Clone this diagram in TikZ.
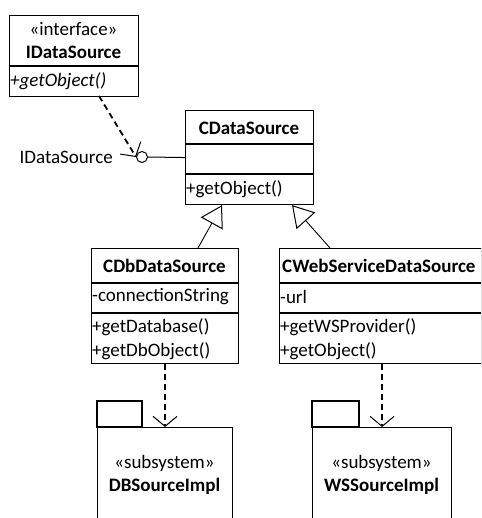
\documentclass[tikz,border=0pt]{standalone}
\usepackage{fontspec}
\setmainfont{Carlito}
\usetikzlibrary{arrows.meta}
\begin{document}
\begin{tikzpicture}[x=1pt, y=-1pt,
  box/.style={draw, line width=1.1pt, inner sep=0pt, anchor=north west},
  txt/.style={inner sep=1pt, font=\fontsize{19}{22}\selectfont},
  gen/.style={line width=0.9pt, -{Triangle[open, length=21pt, width=25pt, line width=1pt]}},
  dep/.style={line width=1.8pt, dash pattern=on 6pt off 4pt, -{Straight Barb[length=10pt, width=24pt, line width=1pt]}}]
  \clip (0,0) rectangle (481,518);
  % interface IDataSource
  \node[box, minimum width=129pt, minimum height=81pt] (idata) at (9,15) {};
  \draw[line width=1.1pt] (9,66) -- (138,66);
  \node[txt] (idst) at (73.5,29) {«interface»};
  \node[txt, font=\fontsize{19}{22}\selectfont\bfseries] (idname) at (73.5,52) {IDataSource};
  \node[txt, anchor=west] (idop) at (9,81) {\itshape +getObject()};
  % class CDataSource
  \node[box, minimum width=128pt, minimum height=94pt] (cds) at (185,110) {};
  \draw[line width=1.1pt] (185,144) -- (313,144);
  \draw[line width=1.1pt] (185,174) -- (313,174);
  \node[txt, font=\fontsize{19}{22}\selectfont\bfseries] (cdsname) at (249,128) {CDataSource};
  \node[txt, anchor=west] (cdsop) at (185,189) {+getObject()};
  % lollipop
  \node[draw, circle, line width=1pt, minimum size=11pt, inner sep=0pt] (ball) at (142,157) {};
  \draw[line width=1pt] (ball.east) -- (cds.west);
  \node[txt, anchor=east] (balllbl) at (114,157) {IDataSource};
  \coordinate (idfoot) at (99,96);
  \draw[dep] (idfoot) -- (ball.west);
  % class CDbDataSource
  \node[box, minimum width=147pt, minimum height=115pt] (cdb) at (91,248) {};
  \draw[line width=1.1pt] (91,283) -- (238,283);
  \draw[line width=1.1pt] (91,313) -- (238,313);
  \node[txt, font=\fontsize{19}{22}\selectfont\bfseries] (cdbname) at (164.5,266) {CDbDataSource};
  \node[txt, anchor=west] (cdbat) at (91,297) {-connectionString};
  \node[txt, anchor=west] (cdbop1) at (91,327) {+getDatabase()};
  \node[txt, anchor=west] (cdbop2) at (91,351) {+getDbObject()};
  % class CWebServiceDataSource
  \node[box, minimum width=202pt, minimum height=115pt] (cws) at (279,248) {};
  \draw[line width=1.1pt] (279,283) -- (481,283);
  \draw[line width=1.1pt] (279,313) -- (481,313);
  \node[txt, anchor=west, font=\fontsize{19}{22}\selectfont\bfseries] (cwsname) at (281,266) {CWebServiceDataSource};
  \node[txt, anchor=west] (cwsat) at (279,297) {-url};
  \node[txt, anchor=west] (cwsop1) at (279,327) {+getWSProvider()};
  \node[txt, anchor=west] (cwsop2) at (279,351) {+getObject()};
  % generalisations
  \coordinate (cdbtop) at (198,248);
  \coordinate (cwstop) at (330,248);
  \draw[gen] (cdbtop) -- (cds.south -| 222,0);
  \draw[gen] (cwstop) -- (cds.south -| 292,0);
  % subsystem packages
  \draw[line width=1.1pt] (97,427) rectangle (142,401);
  \node[box, minimum width=135pt, minimum height=110pt] (dbpkg) at (97,427) {};
  \node[txt] (dbst) at (164.5,463) {«subsystem»};
  \node[txt, font=\fontsize{19}{22}\selectfont\bfseries] (dbname) at (164.5,486) {DBSourceImpl};
  \draw[line width=1.1pt] (312,427) rectangle (359,401);
  \node[box, minimum width=139pt, minimum height=110pt] (wspkg) at (312,427) {};
  \node[txt] (wsst) at (381.5,463) {«subsystem»};
  \node[txt, font=\fontsize{19}{22}\selectfont\bfseries] (wsname) at (381.5,486) {WSSourceImpl};
  % dependencies
  \draw[dep] (cdb.south) -- (dbpkg.north);
  \draw[dep] (cws.south -| wspkg.north) -- (wspkg.north);
\end{tikzpicture}
\end{document}
